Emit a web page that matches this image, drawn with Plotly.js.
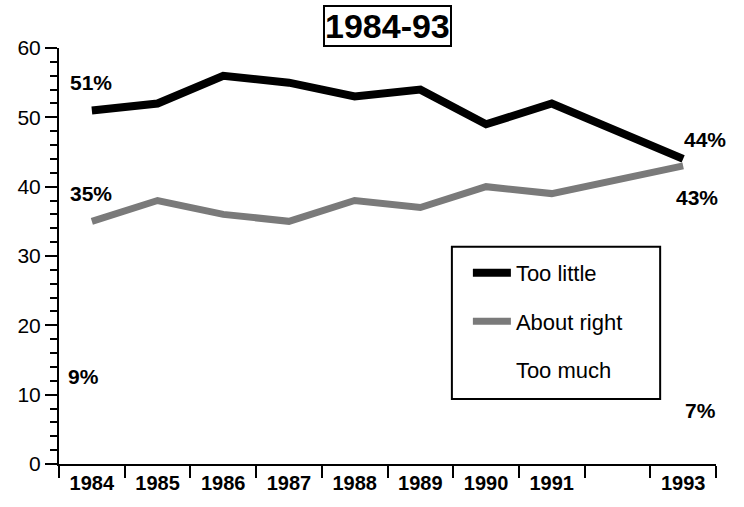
<!DOCTYPE html>
<html>
<head>
<meta charset="utf-8">
<script src="https://cdn.plot.ly/plotly-3.0.1.min.js"></script>
<style>html,body{margin:0;padding:0;background:#fff;}#chart{width:744px;height:507px;}</style>
</head>
<body>
<div id="chart"></div>
<script>
const years = ['1984','1985','1986','1987','1988','1989','1990','1991','1992','1993'];
const yearLabels = ['1984','1985','1986','1987','1988','1989','1990','1991','','1993'];
const tooLittle = [51, 52, 56, 55, 53, 54, 49, 52, null, 44];
const aboutRight = [35, 38, 36, 35, 38, 37, 40, 39, null, 43];
const tooMuch = [9, null, null, null, null, null, null, null, null, 7];
const seriesNames = ['Too little', 'About right', 'Too much'];
const chartTitle = '1984-93';

const FONT = 'Liberation Sans, Arial, Helvetica, sans-serif';

const traces = [
  {x: years, y: tooLittle, name: seriesNames[0], type: 'scatter', mode: 'lines', connectgaps: true,
   line: {color: '#000000', width: 8}, legendgroup: 'a', hoverinfo: 'skip'},
  {x: years, y: aboutRight, name: seriesNames[1], type: 'scatter', mode: 'lines', connectgaps: true,
   line: {color: '#7a7a7a', width: 7}, legendgroup: 'b', hoverinfo: 'skip'},
  {x: years, y: tooMuch, name: seriesNames[2], type: 'scatter', mode: 'lines', connectgaps: true,
   line: {color: 'rgba(255,255,255,0)', width: 6}, legendgroup: 'c', hoverinfo: 'skip'}
];

function firstIdx(arr){ return arr.findIndex(v => v !== null); }
function lastIdx(arr){ for (let i = arr.length - 1; i >= 0; i--) if (arr[i] !== null) return i; return -1; }

function valLabel(arr, idx, xs, ys){
  return {x: idx, y: arr[idx], xref: 'x', yref: 'y', text: '<b>' + arr[idx] + '%</b>',
          showarrow: false, xshift: xs, yshift: ys,
          font: {size: 21, color: '#000', family: FONT}};
}

const annotations = [
  valLabel(tooLittle, firstIdx(tooLittle), -1, 28),
  valLabel(tooLittle, lastIdx(tooLittle), 22, 19),
  valLabel(aboutRight, firstIdx(aboutRight), -1, 28),
  valLabel(aboutRight, lastIdx(aboutRight), 14, -32),
  valLabel(tooMuch, firstIdx(tooMuch), -8, 25),
  valLabel(tooMuch, lastIdx(tooMuch), 17, 5),
  {x: 0.5, y: 1.052, xref: 'paper', yref: 'paper', text: '<b>' + chartTitle + '</b>', showarrow: false,
   font: {size: 34, color: '#000', family: FONT}, bordercolor: '#000', borderwidth: 2, borderpad: 0,
   bgcolor: '#fff', xanchor: 'center', yanchor: 'middle'}
];

const layout = {
  width: 744, height: 507,
  margin: {l: 59, r: 28, t: 48, b: 43, pad: 0},
  paper_bgcolor: '#fff', plot_bgcolor: '#fff',
  font: {family: FONT, color: '#000'},
  showlegend: true,
  legend: {x: 0.598, y: 0.510, xanchor: 'left', yanchor: 'top', borderwidth: 0,
           bgcolor: 'rgba(0,0,0,0)', font: {size: 22, family: FONT, color: '#000'}, tracegroupgap: 17,
           itemwidth: 38, indentation: 16, traceorder: 'grouped'},
  shapes: [
    {type: 'rect', xref: 'paper', yref: 'paper', x0: 0.598, x1: 0.915, y0: 0.156, y1: 0.522,
     line: {color: '#000', width: 2}, fillcolor: 'rgba(0,0,0,0)', layer: 'above'}
  ],
  xaxis: {type: 'category', categoryorder: 'array', categoryarray: years,
          tickvals: years, ticktext: yearLabels, tickson: 'boundaries',
          range: [-0.5, 9.5], showline: true, linecolor: '#000', linewidth: 2,
          ticks: 'outside', ticklen: 12, tickwidth: 2, tickcolor: '#000',
          showgrid: false, zeroline: false, fixedrange: true,
          tickfont: {size: 20, family: FONT, color: '#000', weight: 'bold'}},
  yaxis: {range: [0, 60], tickvals: [0, 10, 20, 30, 40, 50, 60], showline: true, linecolor: '#000', linewidth: 2,
          ticks: 'outside', ticklen: 12, tickwidth: 2, tickcolor: '#000',
          minor: {dtick: 2, ticks: 'outside', ticklen: 7, tickwidth: 2, tickcolor: '#000', showgrid: false},
          showgrid: false, zeroline: false, fixedrange: true,
          tickfont: {size: 21, family: FONT, color: '#000'}},
  annotations: annotations
};

Plotly.newPlot('chart', traces, layout, {staticPlot: true, displayModeBar: false});
</script>
</body>
</html>
